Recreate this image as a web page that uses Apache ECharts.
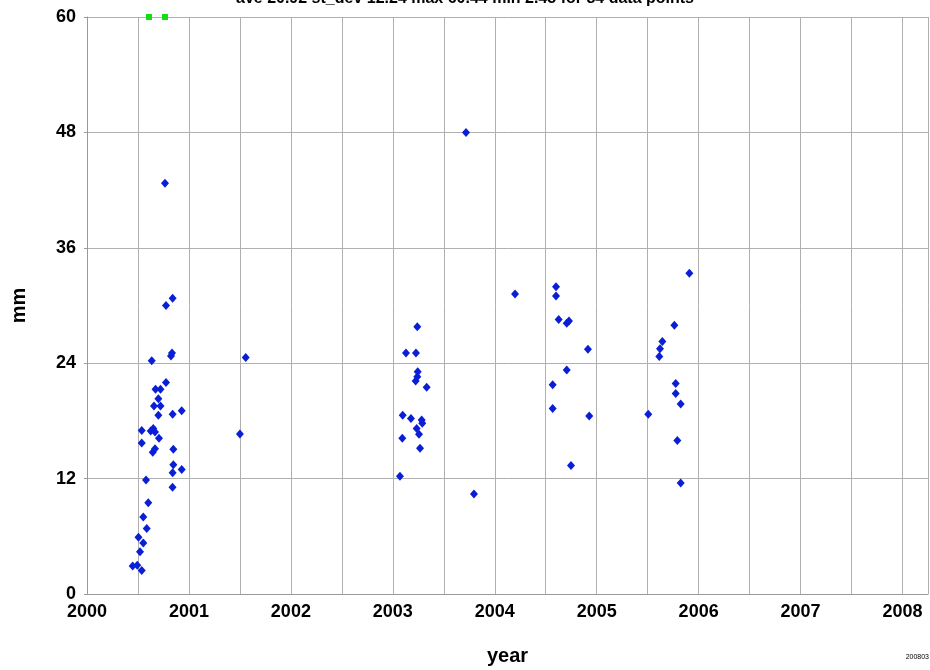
<!DOCTYPE html>
<html>
<head>
<meta charset="utf-8">
<script src="https://cdn.jsdelivr.net/npm/echarts@6/dist/echarts.min.js"></script>
<style>
  html, body { margin: 0; padding: 0; background: #fff; overflow: hidden; }
  #chart { width: 930px; height: 670px; }
</style>
</head>
<body>
<div id="chart"></div>
<script>
// Observation dates (decimal years) and measured values in mm
const years = [
  2000.448, 2000.493, 2000.537, 2000.520, 2000.552, 2000.505, 2000.586, 2000.552, 2000.601, 2000.579,
  2000.839, 2000.840, 2000.929, 2000.847, 2000.847, 2000.645, 2000.667, 2000.537, 2000.706, 2000.537,
  2000.625, 2000.650, 2000.667, 2000.700, 2000.840, 2000.929, 2000.657, 2000.721, 2000.700, 2000.672,
  2000.721, 2000.775, 2000.635, 2000.824, 2000.834, 2000.775, 2000.840, 2000.765, 2001.500, 2001.557,
  2003.240, 2003.129, 2003.227, 2003.244, 2003.240, 2003.224, 2003.332, 2003.097, 2003.178, 2003.283,
  2003.289, 2003.234, 2003.257, 2003.093, 2003.267, 2003.070, 2003.796, 2003.718,
  2004.199, 2004.601, 2004.601, 2004.627, 2004.706, 2004.728, 2004.914, 2004.706, 2004.568, 2004.568,
  2004.927, 2004.748,
  2005.909, 2005.762, 2005.644, 2005.621, 2005.614, 2005.775, 2005.775, 2005.824, 2005.506, 2005.791,
  2005.824
];
const values = [
  2.9, 3.0, 2.45, 4.4, 5.3, 5.9, 6.8, 8.0, 9.5, 11.85,
  11.1, 12.6, 12.95, 13.45, 15.05, 14.75, 15.1, 15.7, 16.2, 17.0,
  16.95, 17.2, 16.85, 18.6, 18.7, 19.05, 19.55, 19.55, 20.3, 21.3,
  21.3, 22.0, 24.25, 24.75, 25.05, 30.0, 30.75, 42.7, 16.65, 24.6,
  27.8, 25.05, 25.05, 23.1, 22.6, 22.15, 21.5, 18.6, 18.25, 18.1,
  17.75, 17.2, 16.6, 16.2, 15.15, 12.25, 10.4, 48.0,
  31.2, 31.95, 31.0, 28.55, 28.15, 28.4, 25.45, 23.3, 21.75, 19.3,
  18.5, 13.35,
  33.35, 27.95, 26.25, 25.5, 24.7, 21.9, 20.85, 19.75, 18.7, 15.95,
  11.55
];
// Values above the plotted range, pinned to the top edge
const overYears = [2000.608, 2000.765];
const overValues = [60.44, 60.2];

const yTicks = [0, 12, 24, 36, 48, 60];
const xTickLabels = ['2000', '2001', '2002', '2003', '2004', '2005', '2006', '2007', '2008'];

const titleText = 'ave 20.92 st_dev 12.24 max 60.44 min 2.45 for 84 data points';
const stampText = '200803';

const Y_MAX = yTicks[yTicks.length - 1];
const FONT = '"Liberation Sans", Arial, Helvetica, sans-serif';

const chart = echarts.init(document.getElementById('chart'), null, { renderer: 'canvas' });

chart.setOption({
  backgroundColor: '#ffffff',
  animation: false,
  title: {
    text: titleText,
    left: 'center',
    top: -14,
    textStyle: { fontFamily: FONT, fontWeight: 'bold', fontSize: 16, color: '#000' }
  },
  // fixed plot rectangle; labels and names are allowed to sit outside it
  grid: { left: 87, top: 17, right: 2, bottom: 76, containLabel: false, outerBoundsMode: 'none' },
  xAxis: {
    type: 'value',
    min: 2000,
    max: 2008.25,
    interval: 0.5,
    name: 'year',
    nameLocation: 'middle',
    nameGap: 52,
    nameTextStyle: { fontFamily: FONT, fontWeight: 'bold', fontSize: 20, color: '#000' },
    axisLine: { show: true, lineStyle: { color: '#9a9a9a', width: 1 } },
    axisTick: { show: false },
    splitLine: { show: true, lineStyle: { color: '#b0b0b0', width: 1 } },
    axisLabel: {
      margin: 9,
      fontFamily: FONT, fontWeight: 'bold', fontSize: 18, color: '#000',
      formatter: function (v) {
        const i = Math.round(v - 2000);
        return (Math.abs(v - 2000 - i) < 1e-6 && xTickLabels[i]) ? xTickLabels[i] : '';
      }
    }
  },
  yAxis: {
    type: 'value',
    min: 0,
    max: Y_MAX,
    interval: 12,
    name: 'mm',
    nameLocation: 'middle',
    nameGap: 58,
    nameRotate: 90,
    nameTextStyle: { fontFamily: FONT, fontWeight: 'bold', fontSize: 20, color: '#000' },
    axisLine: { show: true, lineStyle: { color: '#9a9a9a', width: 1 } },
    axisTick: { show: true, length: 3, inside: false, lineStyle: { color: '#9a9a9a' } },
    splitLine: { show: true, lineStyle: { color: '#b0b0b0', width: 1 } },
    axisLabel: {
      margin: 11,
      fontFamily: FONT, fontWeight: 'bold', fontSize: 18, color: '#000',
      formatter: function (v) { return yTicks.indexOf(v) >= 0 ? String(v) : ''; }
    }
  },
  series: [
    {
      type: 'scatter',
      symbol: 'diamond',
      symbolSize: [8, 9],
      itemStyle: { color: '#0a1ed6', opacity: 1 },
      data: years.map((x, i) => [x, values[i]])
    },
    {
      type: 'scatter',
      symbol: 'rect',
      symbolSize: 6,
      clip: false,
      itemStyle: { color: '#10e010', opacity: 1 },
      data: overYears.map((x, i) => [x, Math.min(overValues[i], Y_MAX)])
    }
  ],
  graphic: [
    {
      type: 'text',
      right: 1,
      top: 654,
      style: { text: stampText, fontFamily: FONT, fontSize: 7, fill: '#000' }
    }
  ]
});
</script>
</body>
</html>
